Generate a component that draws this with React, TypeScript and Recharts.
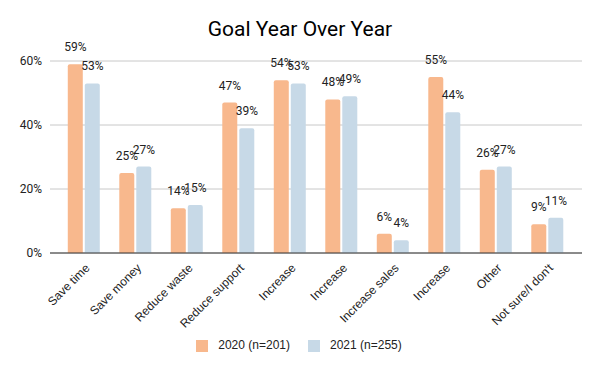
import React from 'react';
import { BarChart, Bar, XAxis, YAxis, CartesianGrid, Legend, LabelList } from 'recharts';

const categories = [
  'Save time',
  'Save money',
  'Reduce waste',
  'Reduce support',
  'Increase',
  'Increase',
  'Increase sales',
  'Increase',
  'Other',
  "Not sure/I don't",
];
const values2020 = [59, 25, 14, 47, 54, 48, 6, 55, 26, 9];
const values2021 = [53, 27, 15, 39, 53, 49, 4, 44, 27, 11];
const yTicks = [0, 20, 40, 60];

const data = categories.map((name, i) => ({ name, y2020: values2020[i], y2021: values2021[i] }));

const pct = (v: number) => `${v}%`;

const XTick = (props: any) => {
  const { x, y, payload } = props;
  return (
    <g transform={`translate(${x + 1},${y + 2})`}>
      <text
        transform="rotate(-45)"
        textAnchor="end"
        dy={8}
        fill="#222"
        fontSize={12}
        fontFamily="'Liberation Sans', Arial, sans-serif"
      >
        {payload.value}
      </text>
    </g>
  );
};

export default function App() {
  return (
    <div style={{ position: 'absolute', left: 0, top: 0, width: 600, height: 371, background: '#fff' }}>
      <div
        style={{
          position: 'absolute',
          top: 17,
          width: 600,
          textAlign: 'center',
          fontFamily: 'Roboto, sans-serif',
          fontSize: 21,
          color: '#000',
        }}
      >
        Goal Year Over Year
      </div>
      <BarChart
        width={600}
        height={371}
        data={data}
        margin={{ top: 61, right: 18, left: 0, bottom: 19 }}
        barCategoryGap="19%"
        barGap={2}
      >
        <CartesianGrid vertical={false} stroke="#c8c8c8" />
        <XAxis
          dataKey="name"
          tick={<XTick />}
          tickLine={false}
          axisLine={{ stroke: '#333' }}
          interval={0}
          height={85}
          padding={{ left: 8, right: 9 }}
        />
        <YAxis
          domain={[0, 60]}
          ticks={yTicks}
          tickFormatter={pct}
          axisLine={false}
          tickLine={false}
          width={50}
          tick={{ fill: '#222', fontSize: 12, fontFamily: 'Roboto, sans-serif' }}
        />
        <Legend
          verticalAlign="bottom"
          iconType="square"
          iconSize={12}
          wrapperStyle={{
            left: 0,
            width: 600,
            paddingLeft: 16,
            boxSizing: 'border-box',
            fontFamily: "'Liberation Sans', Arial, sans-serif",
            fontSize: 12,
          }}
          formatter={(v: string) => (
            <span style={{ color: '#222', paddingLeft: 6, marginRight: 8 }}>{v}</span>
          )}
        />
        <Bar dataKey="y2020" name="2020 (n=201)" fill="#F8B88D" radius={[2, 2, 0, 0]} isAnimationActive={false}>
          <LabelList
            dataKey="y2020"
            position="top"
            offset={13}
            formatter={pct}
            fill="#222"
            fontSize={12}
            fontFamily="Roboto, sans-serif"
          />
        </Bar>
        <Bar dataKey="y2021" name="2021 (n=255)" fill="#C7D9E7" radius={[2, 2, 0, 0]} isAnimationActive={false}>
          <LabelList
            dataKey="y2021"
            position="top"
            offset={13}
            formatter={pct}
            fill="#222"
            fontSize={12}
            fontFamily="Roboto, sans-serif"
          />
        </Bar>
      </BarChart>
    </div>
  );
}
